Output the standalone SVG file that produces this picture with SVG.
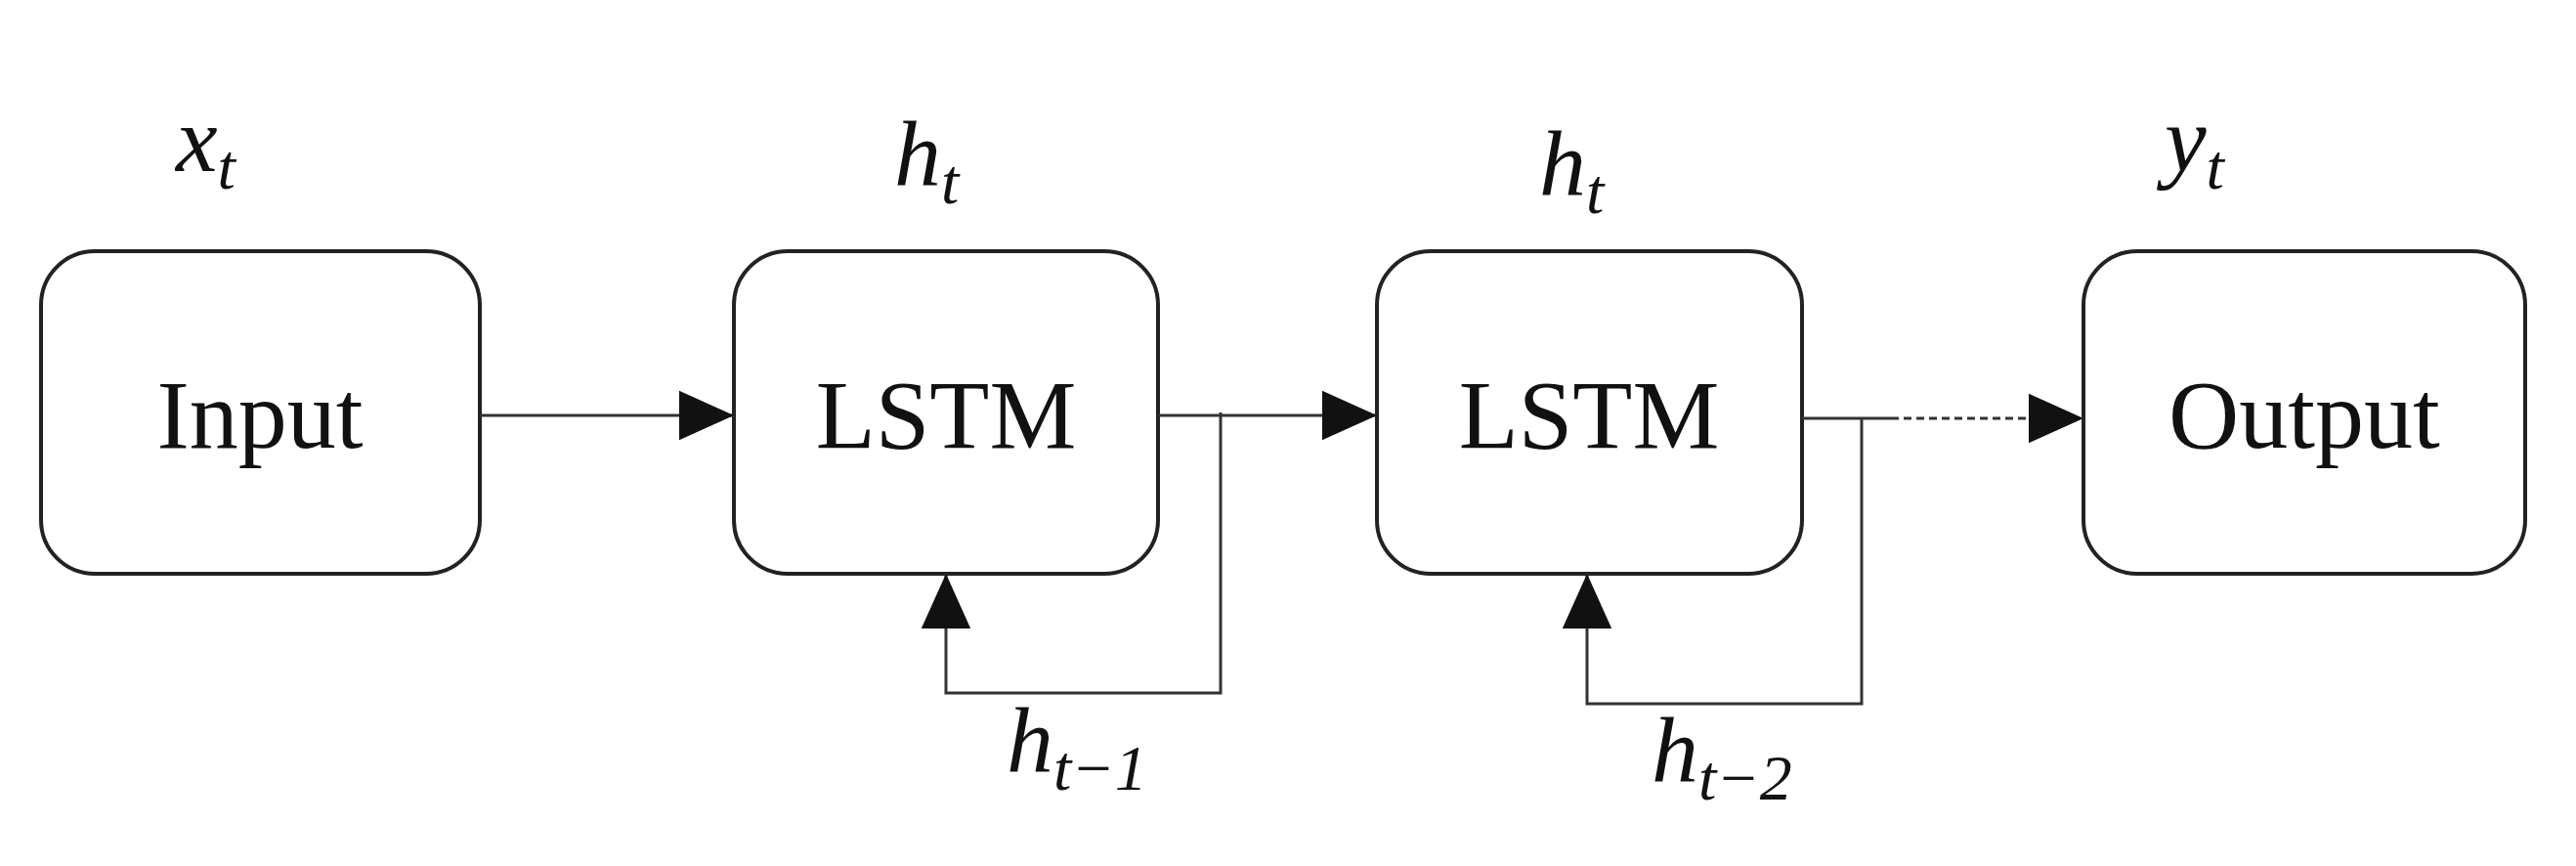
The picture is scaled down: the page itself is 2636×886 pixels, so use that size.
<svg xmlns="http://www.w3.org/2000/svg" width="2636" height="886" viewBox="0 0 2636 886">
<style>
.box{fill:#fff;stroke:#222;stroke-width:4}
.lbl{font-family:"Liberation Serif",serif;font-size:100px;fill:#111;text-anchor:middle}
.m{font-family:"Liberation Serif",serif;font-style:italic;font-size:96px;fill:#111}
.s{font-size:66px}
.ln{fill:none;stroke:#333;stroke-width:3}
</style>
<defs><marker id="a" viewBox="0 0 10 10" refX="10" refY="5" markerWidth="14" markerHeight="14" markerUnits="userSpaceOnUse" orient="auto"><path d="M0,0L10,5L0,10z" fill="#111"/></marker>
<marker id="b" viewBox="0 0 10 10" refX="10" refY="5" markerWidth="56" markerHeight="56" markerUnits="userSpaceOnUse" orient="auto"><path d="M0,0.5L10,5L0,9.5z" fill="#111"/></marker></defs>
<g id="input"><rect class="box" x="42" y="257" width="449" height="330" rx="55"/><text class="lbl" x="266" y="458">Input</text></g>
<g id="lstm1"><rect class="box" x="751" y="257" width="434" height="330" rx="55"/><text class="lbl" x="968" y="458">LSTM</text></g>
<g id="lstm2"><rect class="box" x="1409" y="257" width="435" height="330" rx="55"/><text class="lbl" x="1626" y="458">LSTM</text></g>
<g id="output"><rect class="box" x="2132" y="257" width="452" height="330" rx="55"/><text class="lbl" x="2358" y="458">Output</text></g>
<g id="connectors">
<line class="ln" x1="491" y1="425" x2="751" y2="425" marker-end="url(#b)"/>
<line class="ln" x1="1185" y1="425" x2="1409" y2="425" marker-end="url(#b)"/>
<polyline class="ln" points="1249,422 1249,709 968,709 968,587" marker-end="url(#b)"/>
<line class="ln" x1="1844" y1="428" x2="1935" y2="428"/>
<line class="ln" x1="1935" y1="428" x2="2132" y2="428" stroke-dasharray="8,5" marker-end="url(#b)"/>
<polyline class="ln" points="1905,428 1905,720 1624,720 1624,587" marker-end="url(#b)"/>
</g>
<g id="labels">
<text class="m" x="180" y="175">x<tspan class="s" dy="18">t</tspan></text>
<text class="m" x="915" y="190">h<tspan class="s" dy="18">t</tspan></text>
<text class="m" x="1575" y="200">h<tspan class="s" dy="18">t</tspan></text>
<text class="m" x="2215" y="175">y<tspan class="s" dy="18">t</tspan></text>
<text class="m" x="1030" y="790">h<tspan class="s" dy="18">t−1</tspan></text>
<text class="m" x="1690" y="800">h<tspan class="s" dy="18">t−2</tspan></text>
</g>
</svg>
